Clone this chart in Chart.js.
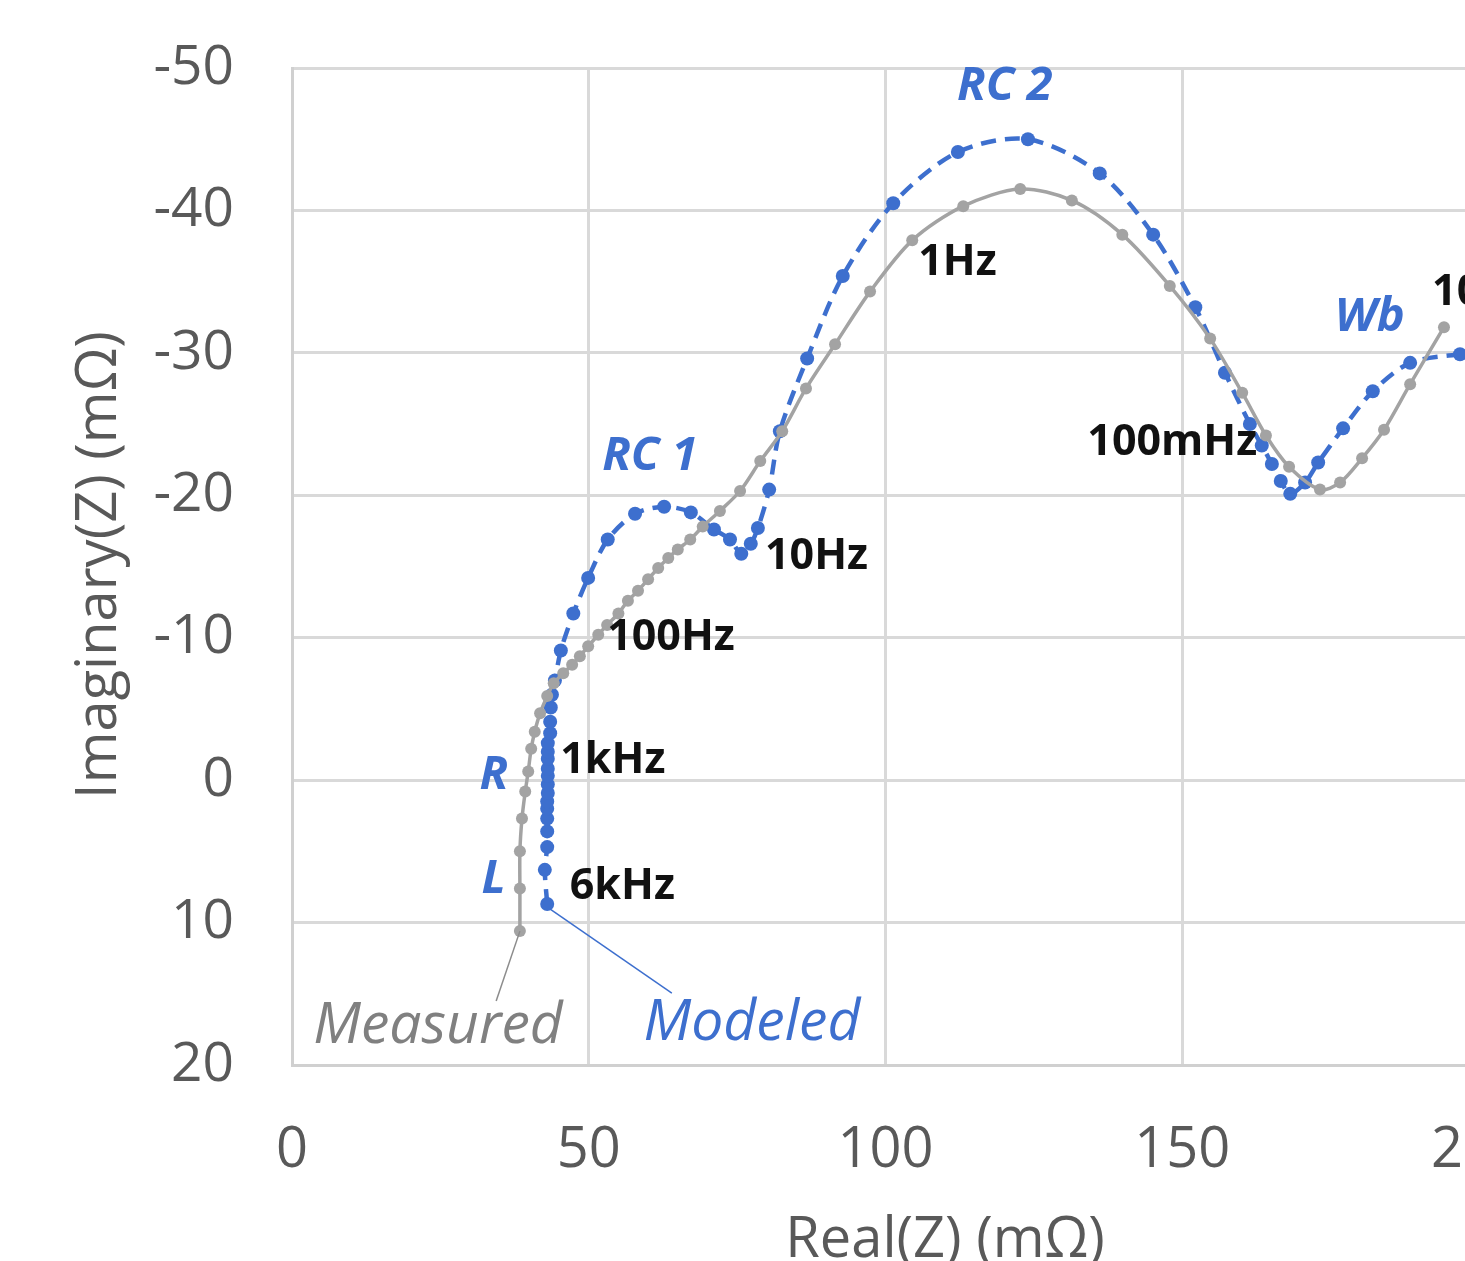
<!DOCTYPE html>
<html>
<head>
<meta charset="utf-8">
<script src="https://cdn.jsdelivr.net/npm/chart.js@4"></script>
<style>
	html, body { margin: 0; padding: 0; background: #fff; overflow: hidden; }
	.wrap { position: relative; width: 1549px; height: 1261px; }
</style>
</head>
<body>
<div class="wrap"><canvas id="myChart"></canvas></div>
<script>
// measured impedance (gray)
const measuredRe = [38.4, 38.4, 38.4, 38.75, 39.3, 39.8, 40.3, 40.9, 41.8, 43.0, 44.1, 45.7, 47.2, 48.5, 49.9,
	51.6, 53.1, 55.0, 56.6, 58.3, 60.0, 61.7, 63.4, 65.0, 67.1, 69.2, 72.1, 75.5, 78.9, 82.6, 86.6,
	91.5, 97.4, 104.5, 113.1, 122.7, 131.4, 139.9, 147.9, 154.7, 160.1, 164.1, 168.0, 173.2, 176.6,
	180.3, 184.0, 188.4, 194.1];
const measuredIm = [10.6, 7.6, 5.0, 2.7, 0.8, -0.6, -2.2, -3.4, -4.7, -5.9, -6.8, -7.5, -8.1, -8.7, -9.4,
	-10.2, -10.9, -11.7, -12.6, -13.3, -14.1, -14.9, -15.6, -16.2, -16.9, -17.8, -18.9, -20.3, -22.4, -24.5, -27.5,
	-30.6, -34.3, -37.9, -40.3, -41.5, -40.7, -38.3, -34.7, -31.0, -27.2, -24.2, -22.0, -20.4, -20.9,
	-22.6, -24.6, -27.8, -31.8];

// modeled impedance (blue dashed)
const modeledRe = [43.0, 42.6, 43.0, 43.0, 43.0, 43.0, 43.0, 43.1, 43.1, 43.1, 43.1, 43.1, 43.1, 43.1,
	43.5, 43.5, 43.6, 43.8, 44.3, 45.3, 47.4, 49.9, 53.2, 57.8, 62.7, 67.2, 71.1, 73.8, 75.7, 77.3,
	78.5, 80.4, 82.2, 86.8, 92.8, 101.3, 112.2, 124.0, 136.1, 145.1, 152.2, 157.2, 161.4, 163.4,
	165.1, 166.6, 168.2, 170.7, 172.9, 177.1, 182.1, 188.4, 196.8, 205];
const modeledIm = [8.7, 6.3, 4.7, 3.6, 2.7, 2.0, 1.5, 0.9, 0.3, -0.3, -0.8, -1.5, -2.0, -2.6,
	-3.3, -4.1, -5.1, -6.0, -7.0, -9.1, -11.7, -14.2, -16.9, -18.7, -19.2, -18.8, -17.6, -16.9, -15.9, -16.6,
	-17.7, -20.4, -24.5, -29.6, -35.4, -40.5, -44.1, -45.0, -42.6, -38.3, -33.2, -28.6, -25.0, -23.5,
	-22.2, -21.0, -20.1, -20.9, -22.3, -24.7, -27.3, -29.3, -29.9, -30.2];

const xTicks = [0, 50, 100, 150, 200];
const yTicks = [-50, -40, -30, -20, -10, 0, 10, 20];

// frequency / element labels
const noteText = ["RC 1", "RC 2", "Wb", "R", "L", "1Hz", "10Hz", "100Hz", "1kHz", "6kHz", "100mHz", "10mHz", "Measured", "Modeled"];
const noteRe = [60.3, 120.1, 181.6, 34.0, 34.0, 105.5, 79.7, 53.1, 45.2, 46.8, 134.0, 192.1, 24.6, 77.5];
const noteIm = [-22.75, -48.7, -32.5, -0.3, 7.0, -36.3, -15.66, -9.97, -1.33, 7.5, -23.7, -34.2, 17.3, 17.1];
const noteKind = ["elem", "elem", "elem", "elem", "elem", "freq", "freq", "freq", "freq", "freq", "freq", "freq", "meas", "mod"];

// leader lines from the curve ends to the series names
const leaderFrom = [[38.4, 10.6], [43.5, 9.06]];
const leaderTo = [[34.4, 15.5], [64.0, 14.96]];

const BLUE = "#3d6fce";
const GRAY = "#a3a3a3";
const TEXT = "#595959";
const FONT = "'Open Sans', sans-serif";

function toPoints(xs, ys) {
	return xs.map((x, i) => ({ x: x, y: ys[i] }));
}

const notesPlugin = {
	id: "notes",
	afterDatasetsDraw(chart) {
		const ctx = chart.ctx;
		const sx = chart.scales.x;
		const sy = chart.scales.y;
		ctx.save();
		ctx.lineWidth = 1.5;
		leaderFrom.forEach((p, i) => {
			ctx.strokeStyle = i == 0 ? "#8c8c8c" : BLUE;
			ctx.beginPath();
			ctx.moveTo(sx.getPixelForValue(p[0]), sy.getPixelForValue(p[1]));
			ctx.lineTo(sx.getPixelForValue(leaderTo[i][0]), sy.getPixelForValue(leaderTo[i][1]));
			ctx.stroke();
		});
		ctx.textBaseline = "middle";
		noteText.forEach((t, i) => {
			const kind = noteKind[i];
			if (kind == "elem") {
				ctx.font = `italic bold 47px ${FONT}`;
				ctx.fillStyle = BLUE;
				ctx.textAlign = "center";
			} else if (kind == "freq") {
				ctx.font = `bold 43px ${FONT}`;
				ctx.fillStyle = "#111";
				ctx.textAlign = "left";
			} else {
				ctx.font = `italic 57px ${FONT}`;
				ctx.fillStyle = kind == "meas" ? "#808080" : BLUE;
				ctx.textAlign = "center";
			}
			ctx.fillText(t, sx.getPixelForValue(noteRe[i]), sy.getPixelForValue(noteIm[i]));
		});
		ctx.restore();
	},
	afterDraw(chart) {
		// axis titles
		const ctx = chart.ctx;
		ctx.save();
		ctx.fillStyle = TEXT;
		ctx.font = `56px ${FONT}`;
		ctx.textAlign = "center";
		ctx.textBaseline = "alphabetic";
		ctx.fillText("Real(Z) (m\u03A9)", 945, 1257);
		ctx.textBaseline = "middle";
		ctx.translate(100, 565);
		ctx.rotate(-Math.PI / 2);
		ctx.fillText("Imaginary(Z) (m\u03A9)", 0, 0);
		ctx.restore();
	}
};

const ctx = document.querySelector("#myChart").getContext("2d");
const chart = new Chart(ctx, {
	type: "scatter",
	data: {
		datasets: [
			{
				label: "Measured",
				data: toPoints(measuredRe, measuredIm),
				showLine: true,
				borderColor: GRAY,
				backgroundColor: GRAY,
				borderWidth: 3.5,
				pointRadius: 6,
				pointBorderWidth: 0,
				tension: 0.3,
			},
			{
				label: "Modeled",
				data: toPoints(modeledRe, modeledIm),
				showLine: true,
				borderColor: BLUE,
				backgroundColor: BLUE,
				borderWidth: 4.5,
				borderDash: [15, 9],
				pointRadius: 7,
				pointBorderWidth: 0,
				tension: 0.3,
			},
		],
	},
	options: {
		responsive: true,
		maintainAspectRatio: false,
		animation: false,
		layout: { padding: { top: 68, right: 70, left: 0, bottom: 0 } },
		plugins: { legend: { display: false }, tooltip: { enabled: false } },
		scales: {
			x: {
				type: "linear",
				min: 0,
				max: 200,
				afterBuildTicks: (s) => { s.ticks = xTicks.map((v) => ({ value: v })); },
				afterFit: (s) => { s.height = 196; },
				grid: { color: "#d9d9d9", lineWidth: 3, tickLength: 44, tickColor: "rgba(0,0,0,0)" },
				border: { color: "#d0d0d0", width: 3 },
				ticks: { color: TEXT, font: { family: FONT, size: 56 }, padding: 8, maxRotation: 0 },
			},
			y: {
				type: "linear",
				reverse: true,
				min: -50,
				max: 20,
				afterBuildTicks: (s) => { s.ticks = yTicks.map((v) => ({ value: v })); },
				afterFit: (s) => { s.width = 292; },
				grid: { color: "#d9d9d9", lineWidth: 3, tickLength: 50, tickColor: "rgba(0,0,0,0)" },
				border: { color: "#d0d0d0", width: 3 },
				ticks: { color: TEXT, font: { family: FONT, size: 55 }, padding: 8 },
			},
		},
	},
	plugins: [notesPlugin],
});
</script>
</body>
</html>
